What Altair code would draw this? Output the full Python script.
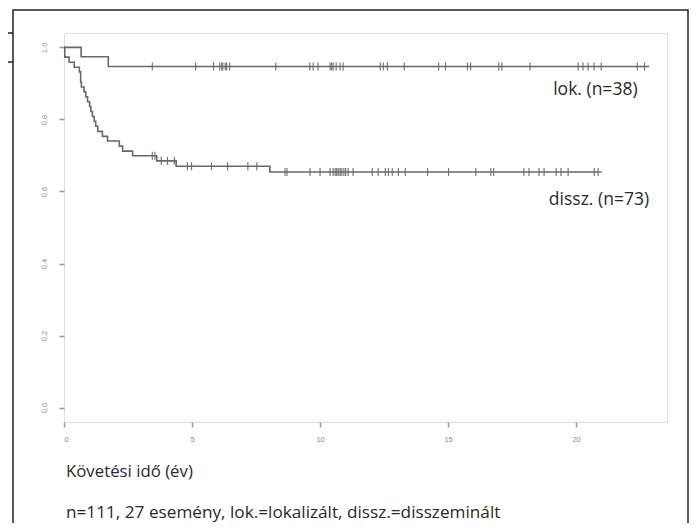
import altair as alt
import pandas as pd

# ---- data ----
lok_t = [0.0, 0.67, 1.73, 22.85]
lok_s = [1.0, 0.974, 0.947, 0.947]
lok_cens = [3.45, 5.14, 5.84, 6.08, 6.16, 6.2, 6.3, 6.35, 6.47, 8.27, 9.6, 9.73, 9.92,
            10.39, 10.45, 10.51, 10.63, 10.78, 10.9, 12.35, 12.47, 12.63, 13.29, 14.63,
            14.9, 15.76, 15.88, 16.98, 17.1, 18.2, 20.08, 20.27, 20.47, 20.7, 20.98,
            22.39, 22.67]

dissz_t = [0.0, 0.03, 0.2, 0.4, 0.6, 0.65, 0.68, 0.78, 0.85, 0.92, 1.0, 1.05, 1.11,
           1.18, 1.24, 1.32, 1.5, 1.7, 2.16, 2.29, 2.68, 3.62, 4.38, 8.04, 21.0]
dissz_s = [1.0, 0.973, 0.959, 0.945, 0.932, 0.904, 0.890, 0.877, 0.863, 0.849, 0.836,
           0.822, 0.808, 0.795, 0.781, 0.767, 0.753, 0.740, 0.726, 0.712, 0.699, 0.685,
           0.670, 0.654, 0.654]
dissz_cens = [3.45, 3.55, 3.8, 4.04, 4.31, 4.82, 4.98, 5.76, 6.39, 7.18, 7.53, 8.63,
              8.71, 9.61, 10.0, 10.39, 10.51, 10.59, 10.65, 10.71, 10.78, 10.82, 10.9,
              10.98, 11.0, 11.1, 11.29, 12.04, 12.27, 12.55, 12.67, 12.82, 13.06, 13.33,
              14.2, 15.02, 16.08, 16.67, 16.78, 17.96, 18.16, 18.55, 18.75, 19.22,
              19.41, 19.69, 20.71, 20.86]

group_labels = ["lok. (n=38)", "dissz. (n=73)"]
label_t = [22.4, 22.85]
label_s = [0.882, 0.577]

x_ticks = [0, 5, 10, 15, 20]
y_ticks = [0.0, 0.2, 0.4, 0.6, 0.8, 1.0]
x_title = "Követési idő (év)"
footnote = "n=111, 27 esemény, lok.=lokalizált, dissz.=disszeminált"


def level(t, ts, ss):
    v = ss[0]
    for a, b in zip(ts, ss):
        if a <= t:
            v = b
    return v


steps = pd.DataFrame(
    [{"g": "lok", "t": a, "s": b} for a, b in zip(lok_t, lok_s)]
    + [{"g": "dissz", "t": a, "s": b} for a, b in zip(dissz_t, dissz_s)]
)
cens = pd.DataFrame(
    [{"g": "lok", "t": c, "s": level(c, lok_t, lok_s)} for c in lok_cens]
    + [{"g": "dissz", "t": c, "s": level(c, dissz_t, dissz_s)} for c in dissz_cens]
)
labels = pd.DataFrame({"label": group_labels, "t": label_t, "s": label_s})

LINE = "#686868"
TXT = "#2a2a2a"
xs = alt.Scale(domain=[0, 23.55], nice=False, zero=False)
ys = alt.Scale(domain=[-0.04, 1.04], nice=False, zero=False)

xax = alt.Axis(values=x_ticks, format="d", title=None, labelFontSize=7.5,
               labelColor="#8a8a8a", labelFont="Liberation Sans", tickColor="#999999",
               tickSize=5, tickWidth=1.5, domain=False, grid=False, labelPadding=8)
yax = alt.Axis(values=y_ticks, format=".1f", title=None, labelFontSize=7.5,
               labelColor="#8a8a8a", labelFont="Liberation Sans", tickColor="#999999",
               tickSize=5, tickWidth=1.5, domain=False, grid=False, labelAngle=270,
               labelAlign="center", labelBaseline="bottom", labelPadding=11)

lines = alt.Chart(steps).mark_line(interpolate="step-after", color=LINE,
                                   strokeWidth=1.6).encode(
    x=alt.X("t:Q", scale=xs, axis=xax),
    y=alt.Y("s:Q", scale=ys, axis=yax),
    detail="g:N",
)

ticks = alt.Chart(cens).mark_tick(orient="vertical", color=LINE, size=8,
                                  thickness=1.2, opacity=0.9).encode(
    x=alt.X("t:Q", scale=xs),
    y=alt.Y("s:Q", scale=ys),
)

lab = alt.Chart(labels).mark_text(align="right", baseline="middle", fontSize=17.5,
                                  font="Open Sans", color=TXT).encode(
    x=alt.X("t:Q", scale=xs),
    y=alt.Y("s:Q", scale=ys),
    text="label:N",
)

one = pd.DataFrame({"a": [0]})
xt = alt.Chart(one).mark_text(align="left", baseline="middle", fontSize=16.8,
                              font="Open Sans", color=TXT, text=x_title).encode(
    x=alt.value(2), y=alt.value(439))
fn = alt.Chart(one).mark_text(align="left", baseline="middle", fontSize=17.2,
                              font="Open Sans", color=TXT, text=footnote).encode(
    x=alt.value(2), y=alt.value(480))

frame = alt.Chart(one).mark_rect(filled=False, stroke="#222222", strokeWidth=1.5).encode(
    x=alt.value(-51), x2=alt.value(624), y=alt.value(-23), y2=alt.value(530))

edge1 = alt.Chart(one).mark_rule(color="#222222", strokeWidth=1.5).encode(
    x=alt.value(-58), x2=alt.value(-51), y=alt.value(0))
edge2 = alt.Chart(one).mark_rule(color="#222222", strokeWidth=1.5).encode(
    x=alt.value(-58), x2=alt.value(-51), y=alt.value(29))

chart = alt.layer(lines, ticks, lab, xt, fn, frame, edge1, edge2).properties(
    width=603, height=389,
    autosize=alt.AutoSizeParams(type="none"),
    padding={"left": 56, "top": 25, "right": 22, "bottom": 101},
).configure_view(stroke="#9c9c9c", strokeWidth=2).configure(background="white")

chart.save("out.html", embed_options={"renderer": "svg", "actions": False})
